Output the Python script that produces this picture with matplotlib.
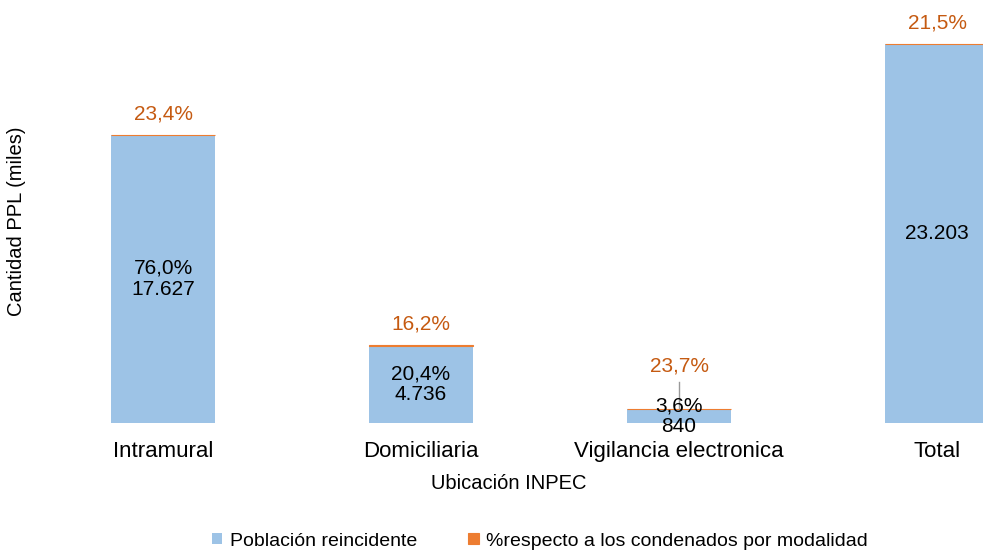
import matplotlib.pyplot as plt
import numpy as np

# --- Data ---
categories = ["Intramural", "Domiciliaria", "Vigilancia electronica", "Total"]
poblacion = [17627, 4736, 840, 23203]
pct_modalidad = [23.4, 16.2, 23.7, 21.5]
pct_share = [76.0, 20.4, 3.6, None]

BLUE = "#9DC3E6"
ORANGE = "#ED7D31"
ORANGE_TXT = "#C55A11"


def fmt_thousands(v):
    return f"{v:,}".replace(",", ".")


def fmt_pct(v):
    return f"{v:.1f}%".replace(".", ",")


plt.rcParams['font.family'] = ['Liberation Sans', 'DejaVu Sans']

fig = plt.figure(figsize=(9.83, 5.5), dpi=100)
# axes placed in pixel terms: left 34, right 983, bottom 423, top 20
ax = fig.add_axes([34 / 983, 1 - 423 / 550, (983 - 34) / 983, (423 - 20) / 550])

x = np.arange(len(categories))
width = 0.4

ax.bar(x, poblacion, width, color=BLUE, label="Población reincidente")
ax.bar(x, pct_modalidad, width, bottom=poblacion, color=ORANGE,
       edgecolor=ORANGE, linewidth=0.8,
       label="%respecto a los condenados por modalidad")

ax.set_xlim(-0.5, 3.178)
ax.set_ylim(0, 24680)

# labels inside blue bars
for xi, v, s in zip(x, poblacion, pct_share):
    txt = fmt_thousands(v) if s is None else f"{fmt_pct(s)}\n{fmt_thousands(v)}"
    ax.text(xi, v / 2, txt, ha='center', va='center', fontsize=15,
            color='black', linespacing=1.15)

# orange labels on top
for xi, v, p in zip(x, poblacion, pct_modalidad):
    if v < 2000:
        top = v + p
        ypos = top + 2650
        ax.plot([xi, xi], [top + 50, ypos - 1000], color='#999999', linewidth=1)
    else:
        ypos = v + p + 1300
    ax.text(xi, ypos, fmt_pct(p), ha='center', va='center', fontsize=15,
            color=ORANGE_TXT)

ax.set_xticks(x)
ax.set_xticklabels(categories, fontsize=16)
ax.tick_params(axis='x', length=0, pad=13)
ax.set_yticks([])
for s in ax.spines.values():
    s.set_visible(False)

ax.set_xlabel("Ubicación INPEC", fontsize=14.5)
ax.xaxis.set_label_coords(0.5, -0.127)
ax.set_ylabel("Cantidad PPL (miles)", fontsize=14.5)
ax.yaxis.set_label_coords(-0.008, 0.5)

fig.legend(loc='center', bbox_to_anchor=(540 / 983, 1 - 541 / 550), ncol=2,
           frameon=False, fontsize=14, handlelength=0.55, handleheight=0.55,
           columnspacing=2.6, handletextpad=0.4)

fig.savefig("out.png", dpi=100)
